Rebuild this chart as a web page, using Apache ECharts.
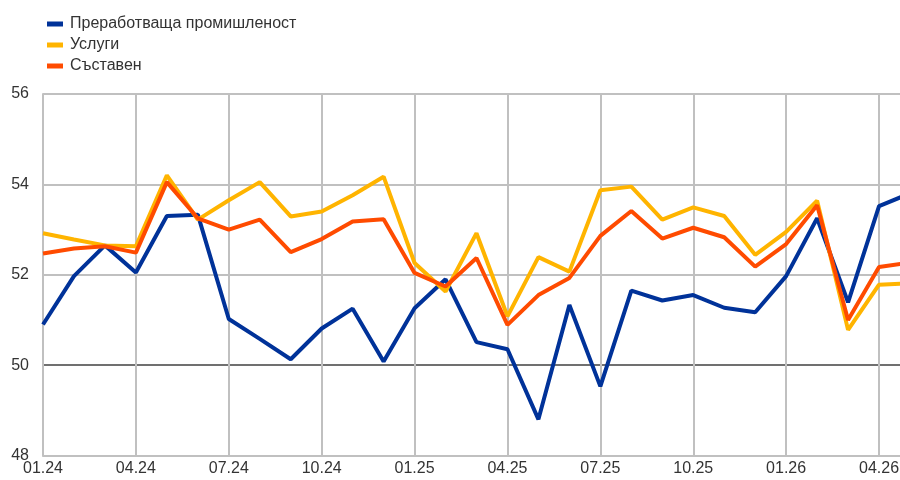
<!DOCTYPE html>
<html>
<head>
<meta charset="utf-8">
<script src="https://cdn.jsdelivr.net/npm/echarts@6/dist/echarts.min.js"></script>
<style>
  html, body { margin: 0; padding: 0; background: #fff; }
  #chart { width: 900px; height: 480px; }
</style>
</head>
<body>
<div id="chart"></div>
<script>
// месеци: 01.24 - 05.26
var months = ['01.24', '02.24', '03.24', '04.24', '05.24', '06.24', '07.24', '08.24', '09.24', '10.24', '11.24', '12.24',
    '01.25', '02.25', '03.25', '04.25', '05.25', '06.25', '07.25', '08.25', '09.25', '10.25', '11.25', '12.25',
    '01.26', '02.26', '03.26', '04.26', '05.26'];

// Преработваща промишленост
var manufacturing = [50.90, 51.97, 52.65, 52.05, 53.30, 53.33, 51.02, 50.58, 50.13, 50.81, 51.25, 50.08,
    51.26, 51.90, 50.51, 50.35, 48.80, 51.33, 49.53, 51.65, 51.43, 51.55, 51.27, 51.17,
    51.97, 53.25, 51.39, 53.52, 53.80];
// Услуги
var services = [52.92, 52.78, 52.65, 52.63, 54.20, 53.22, 53.65, 54.05, 53.29, 53.40, 53.76, 54.17,
    52.26, 51.63, 52.92, 51.08, 52.39, 52.07, 53.87, 53.95, 53.22, 53.49, 53.30, 52.44,
    52.95, 53.64, 50.78, 51.78, 51.81];
// Съставен
var composite = [52.47, 52.58, 52.63, 52.49, 54.05, 53.25, 53.00, 53.22, 52.50, 52.79, 53.18, 53.23,
    52.04, 51.74, 52.37, 50.89, 51.55, 51.93, 52.86, 53.41, 52.80, 53.04, 52.83, 52.18,
    52.68, 53.54, 51.00, 52.17, 52.27];

var seriesNames = ['Преработваща промишленост', 'Услуги', 'Съставен'];
var seriesColors = ['#003299', '#FFB400', '#FF4B00'];

var chart = echarts.init(document.getElementById('chart'));

function makeLine(name, data, color) {
    return {
        name: name,
        type: 'line',
        data: data,
        showSymbol: false,
        symbol: 'none',
        lineStyle: { width: 4, color: color },
        itemStyle: { color: color },
        animation: false
    };
}

var option = {
    backgroundColor: '#fff',
    textStyle: { fontFamily: 'Liberation Sans, Arial, sans-serif' },
    legend: {
        orient: 'vertical',
        left: 42,
        top: 11,
        itemWidth: 16,
        itemHeight: 5,
        itemGap: 5,
        icon: 'rect',
        textStyle: { fontSize: 16, color: '#333', padding: [0, 0, 0, 2] },
        data: seriesNames
    },
    // последният месец излиза малко извън десния край
    grid: {
        left: 43,
        width: 867,
        top: 94,
        bottom: 24.5,
        containLabel: false,
        outerBoundsMode: 'none'
    },
    xAxis: {
        type: 'category',
        data: months,
        boundaryGap: false,
        axisLine: { lineStyle: { color: '#c0c0c0', width: 2 } },
        axisTick: { show: false },
        axisLabel: { interval: 2, fontSize: 16, color: '#333', margin: 5 },
        splitLine: { show: true, interval: 2, lineStyle: { color: '#c0c0c0', width: 2 } }
    },
    yAxis: {
        type: 'value',
        min: 48,
        max: 56,
        interval: 2,
        axisLine: { show: true, lineStyle: { color: '#c0c0c0', width: 2 } },
        axisTick: { show: false },
        axisLabel: { fontSize: 16, color: '#333', margin: 14 },
        splitLine: {
            show: true,
            lineStyle: { color: ['#c0c0c0', '#707070', '#c0c0c0', '#c0c0c0', '#c0c0c0'], width: 2 }
        }
    },
    series: [
        makeLine(seriesNames[0], manufacturing, seriesColors[0]),
        makeLine(seriesNames[1], services, seriesColors[1]),
        makeLine(seriesNames[2], composite, seriesColors[2])
    ]
};

chart.setOption(option);
</script>
</body>
</html>
